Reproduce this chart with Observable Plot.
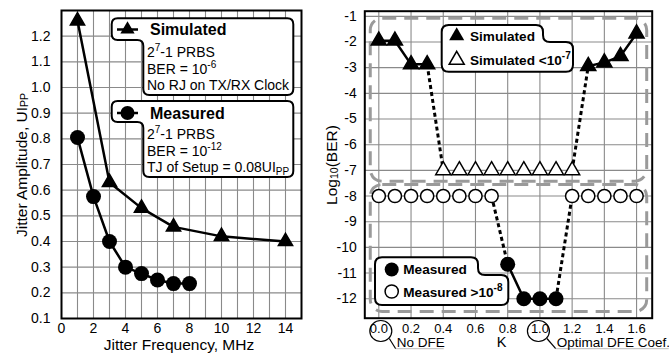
<!DOCTYPE html>
<html><head><meta charset="utf-8">
<script src="https://cdn.jsdelivr.net/npm/d3@7"></script>
<script src="https://cdn.jsdelivr.net/npm/@observablehq/plot@0.6"></script>
<style>
body{margin:0;background:#fff;}
#wrap{position:relative;width:669px;height:353px;overflow:hidden;font-family:"Liberation Sans",Arial,sans-serif;background:#fff;}
#left{position:absolute;left:0;top:0;}
#right{position:absolute;left:316px;top:0;}
svg{overflow:visible;}
</style></head><body><div id="wrap"><div id="left"></div><div id="right"></div></div>
<script>
// ---- Left panel data ----
const freqSim = [1, 3, 5, 7, 10, 14];
const ampSim = [1.26, 0.63, 0.53, 0.457, 0.42, 0.40];
const freqMeas = [1, 2, 3, 4, 5, 6, 7, 8];
const ampMeas = [0.805, 0.575, 0.40, 0.30, 0.275, 0.25, 0.236, 0.236];
const xTicksL = [0, 2, 4, 6, 8, 10, 12, 14];
const yTicksL = [0.1, 0.2, 0.3, 0.4, 0.5, 0.6, 0.7, 0.8, 0.9, 1.0, 1.1, 1.2];
const xGridL = [1,2,3,4,5,6,7,8,9,10,11,12,13,14];

// ---- Right panel data ----
const kSim = [0.0, 0.1, 0.2, 0.3, 1.3, 1.4, 1.5, 1.6];
const berSim = [-1.95, -1.95, -2.87, -2.87, -2.94, -2.8, -2.55, -1.67];
const kSimLow = [0.4, 0.5, 0.6, 0.7, 0.8, 0.9, 1.0, 1.1, 1.2];
const berSimLow = [-7, -7, -7, -7, -7, -7, -7, -7, -7];
const kMeas = [0.8, 0.9, 1.0, 1.1];
const berMeas = [-10.66, -12, -12, -12];
const kMeasHigh = [0.0, 0.1, 0.2, 0.3, 0.4, 0.5, 0.6, 0.7, 1.2, 1.3, 1.4, 1.5, 1.6];
const berMeasHigh = [-8, -8, -8, -8, -8, -8, -8, -8, -8, -8, -8, -8, -8];
const xTicksR = [0.0, 0.2, 0.4, 0.6, 0.8, 1.0, 1.2, 1.4, 1.6];
const yTicksR = [-1, -2, -3, -4, -5, -6, -7, -8, -9, -10, -11, -12];
// dashed region boxes (data units)
const boxK1 = [-0.05, -0.05];
const boxK2 = [1.666, 1.666];
const boxB1 = [-7.44, -12.52];
const boxB2 = [-1.09, -7.57];

const FONT = "Liberation Sans, Arial, sans-serif";
const GRID = "#8a8a8a";

// ---------- LEFT ----------
const simL = freqSim.map((f, i) => ({f, a: ampSim[i]}));
const measL = freqMeas.map((f, i) => ({f, a: ampMeas[i]}));
const left = Plot.plot({
  width: 316, height: 353,
  marginLeft: 61, marginRight: 15, marginTop: 10, marginBottom: 35,
  style: {fontFamily: FONT, fontSize: "14px", color: "#000", background: "transparent", overflow: "visible"},
  x: {domain: [0, 15], ticks: xTicksL, tickSize: 0, tickPadding: 5, label: null, tickFormat: d => String(d)},
  y: {domain: [0.1, 1.3], ticks: yTicksL, tickSize: 0, tickPadding: 11, label: null, tickFormat: d3.format(".1f")},
  marks: [
    Plot.ruleX(xGridL, {stroke: GRID, strokeWidth: 1.1}),
    Plot.ruleY(yTicksL.slice(1), {stroke: GRID, strokeWidth: 1.1}),
    Plot.frame({stroke: "#000", strokeWidth: 2}),
    Plot.line(simL, {x: "f", y: "a", stroke: "#000", strokeWidth: 2.5}),
    Plot.dot(simL, {x: "f", y: "a", symbol: "triangle", r: 5.3, fill: "#000", stroke: "#000"}),
    Plot.line(measL, {x: "f", y: "a", stroke: "#000", strokeWidth: 2.5}),
    Plot.dot(measL, {x: "f", y: "a", r: 7.5, fill: "#000"})
  ]
});
document.getElementById("left").appendChild(left);

// ---------- RIGHT ----------
const simR = kSim.map((k, i) => ({k, b: berSim[i], g: k < 1 ? "a" : "b"}));
const simLowR = kSimLow.map((k, i) => ({k, b: berSimLow[i]}));
const measR = kMeas.map((k, i) => ({k, b: berMeas[i]}));
const measHighR = kMeasHigh.map((k, i) => ({k, b: berMeasHigh[i]}));
const boxes = boxK1.map((k, i) => ({x1: k, x2: boxK2[i], y1: boxB1[i], y2: boxB2[i]}));
const dotted = [
  {x1: kSim[3], y1: berSim[3], x2: kSimLow[0], y2: berSimLow[0]},
  {x1: kSimLow[8], y1: berSimLow[8], x2: kSim[4], y2: berSim[4]},
  {x1: kMeasHigh[7], y1: berMeasHigh[7], x2: kMeas[0], y2: berMeas[0]},
  {x1: kMeas[3], y1: berMeas[3], x2: kMeasHigh[8], y2: berMeasHigh[8]}
];
const right = Plot.plot({
  width: 353, height: 353,
  marginLeft: 48.3, marginRight: 17.3, marginTop: 10.7, marginBottom: 35.3,
  style: {fontFamily: FONT, fontSize: "14px", color: "#000", background: "transparent", overflow: "visible"},
  x: {domain: [-0.087, 1.697], ticks: xTicksR, tickSize: 0, tickPadding: 6, label: null, tickFormat: d3.format(".1f")},
  y: {domain: [-12.76, -0.8], ticks: yTicksR, tickSize: 0, tickPadding: 8, label: null, tickFormat: d => String(d)},
  marks: [
    Plot.ruleX(xTicksR, {stroke: GRID, strokeWidth: 1.1}),
    Plot.ruleY(yTicksR, {stroke: GRID, strokeWidth: 1.1}),
    Plot.rect(boxes, {x1: "x1", x2: "x2", y1: "y1", y2: "y2", fill: "none", stroke: "#9a9a9a", strokeWidth: 3, strokeDasharray: "14,8", rx: 12}),
    Plot.frame({stroke: "#000", strokeWidth: 2}),
    Plot.link(dotted, {x1: "x1", y1: "y1", x2: "x2", y2: "y2", stroke: "#000", strokeWidth: 3, strokeDasharray: "4,3"}),
    Plot.line(simR, {x: "k", y: "b", z: "g", stroke: "#000", strokeWidth: 2.5}),
    Plot.line(measR, {x: "k", y: "b", stroke: "#000", strokeWidth: 2.5}),
    Plot.dot(simR, {x: "k", y: "b", symbol: "triangle", r: 5.6, fill: "#000", stroke: "#000"}),
    Plot.dot(simLowR, {x: "k", y: "b", symbol: "triangle", r: 5.6, fill: "#fff", stroke: "#000", strokeWidth: 1.5}),
    Plot.dot(measHighR, {x: "k", y: "b", r: 6.6, fill: "#fff", stroke: "#000", strokeWidth: 1.5}),
    Plot.dot(measR, {x: "k", y: "b", r: 7.5, fill: "#000"})
  ]
});
document.getElementById("right").appendChild(right);
// slightly smaller tick labels on the K axis
d3.select(right).selectAll('[aria-label="x-axis tick label"]').attr("font-size", "13px");

// ---------- decorations ----------
function rich(g, x, y, parts, attrs) {
  const t = g.append("text").attr("x", x).attr("y", y).attr("font-family", FONT).attr("text-anchor", "start");
  for (const k in attrs) t.attr(k, attrs[k]);
  let shift = 0;
  for (const [s, type] of parts) {
    const sp = t.append("tspan").text(s);
    let target = type === "sup" ? -6 : type === "sub" ? 3 : 0;
    if (target !== shift) { sp.attr("dy", target - shift); shift = target; }
    if (type === "sup" || type === "sub") sp.attr("font-size", "10px");
  }
  return t;
}
function tabLeftPath(xa, xb, xr, y0, yh, y1, r) {
  return `M${xa+r},${y0} H${xr-r} Q${xr},${y0} ${xr},${y0+r} V${y1-r} Q${xr},${y1} ${xr-r},${y1} H${xb+r} Q${xb},${y1} ${xb},${y1-r} V${yh+r} Q${xb},${yh} ${xb-r},${yh} H${xa+r} Q${xa},${yh} ${xa},${yh-r} V${y0+r} Q${xa},${y0} ${xa+r},${y0} Z`;
}
function tabRightPath(xl, xt, xr, y0, ym, y1, r) {
  return `M${xl+r},${y0} H${xt-r} Q${xt},${y0} ${xt},${y0+r} V${ym-r} Q${xt},${ym} ${xt+r},${ym} H${xr-r} Q${xr},${ym} ${xr},${ym+r} V${y1-r} Q${xr},${y1} ${xr-r},${y1} H${xl+r} Q${xl},${y1} ${xl},${y1-r} V${y0+r} Q${xl},${y0} ${xl+r},${y0} Z`;
}
const tri = r => d3.symbol(d3.symbolTriangle, r * r * Math.PI)();

// Left decorations
const L = d3.select(left);
L.append("text").attr("transform", "translate(21,165) rotate(-90)")
  .attr("text-anchor", "middle").attr("dominant-baseline", "central")
  .attr("font-family", FONT).attr("font-size", "15.5px")
  .call(t => { t.append("tspan").text("Jitter Amplitude, UI"); t.append("tspan").attr("font-size", "10.5px").attr("dy", 3).text("PP"); });
L.append("text").attr("x", 179).attr("y", 350).attr("text-anchor", "middle")
  .attr("font-family", FONT).attr("font-size", "15.5px").text("Jitter Frequency, MHz");

const lg = L.append("g");
lg.append("path").attr("d", tabLeftPath(111.7, 143.3, 293.3, 18.3, 40, 95, 6)).attr("fill", "#fff").attr("stroke", "#000").attr("stroke-width", 2);
lg.append("path").attr("d", tabLeftPath(111.7, 143.3, 293.3, 101, 122, 177, 6)).attr("fill", "#fff").attr("stroke", "#000").attr("stroke-width", 2);
lg.append("line").attr("x1", 117).attr("x2", 138).attr("y1", 29.5).attr("y2", 29.5).attr("stroke", "#000").attr("stroke-width", 2.5);
lg.append("path").attr("d", tri(5.3)).attr("transform", "translate(127.5,29.5)").attr("fill", "#000");
lg.append("line").attr("x1", 117).attr("x2", 138).attr("y1", 113).attr("y2", 113).attr("stroke", "#000").attr("stroke-width", 2.5);
lg.append("circle").attr("cx", 127.5).attr("cy", 113).attr("r", 7).attr("fill", "#000");
const boldL = {"font-size": "16px", "font-weight": "bold"};
const normL = {"font-size": "14px"};
rich(lg, 150, 35, [["Simulated", "n"]], boldL);
rich(lg, 147, 56.5, [["2", "n"], ["7", "sup"], ["-1 PRBS", "n"]], normL);
rich(lg, 147, 73.5, [["BER = 10", "n"], ["-6", "sup"]], normL);
rich(lg, 147, 90, [["No RJ on TX/RX Clock", "n"]], normL);
rich(lg, 150, 118.5, [["Measured", "n"]], boldL);
rich(lg, 147, 138.5, [["2", "n"], ["7", "sup"], ["-1 PRBS", "n"]], normL);
rich(lg, 147, 155.5, [["BER = 10", "n"], ["-12", "sup"]], normL);
rich(lg, 147, 171.5, [["TJ of Setup = 0.08UI", "n"], ["PP", "sub"]], normL);

// Right decorations (page coords translated)
const R = d3.select(right);
const rg = R.append("g").attr("transform", "translate(-316,0)");
rg.append("text").attr("transform", "translate(331,165) rotate(-90)")
  .attr("text-anchor", "middle").attr("dominant-baseline", "central")
  .attr("font-family", FONT).attr("font-size", "15.5px")
  .call(t => { t.append("tspan").text("Log"); t.append("tspan").attr("font-size", "10.5px").attr("dy", 3).text("10"); t.append("tspan").attr("dy", -3).text("(BER)"); });

rg.append("path").attr("d", tabRightPath(441.7, 543, 573, 25, 42, 71.7, 7)).attr("fill", "#fff").attr("stroke", "#000").attr("stroke-width", 2);
rg.append("path").attr("d", tri(5.6)).attr("transform", "translate(456.7,36)").attr("fill", "#000");
rg.append("path").attr("d", tri(5.6)).attr("transform", "translate(456.7,60)").attr("fill", "#fff").attr("stroke", "#000").attr("stroke-width", 1.5);
const boldR = {"font-size": "13.6px", "font-weight": "bold"};
rich(rg, 470, 40.5, [["Simulated", "n"]], boldR);
rich(rg, 470, 64.5, [["Simulated <10", "n"], ["-7", "sup"]], boldR);

rg.append("path").attr("d", tabRightPath(375, 478, 508.3, 257.3, 275, 305, 7)).attr("fill", "#fff").attr("stroke", "#000").attr("stroke-width", 2);
rg.append("circle").attr("cx", 391.7).attr("cy", 269.5).attr("r", 7).attr("fill", "#000");
rg.append("circle").attr("cx", 391.7).attr("cy", 291.5).attr("r", 6.6).attr("fill", "#fff").attr("stroke", "#000").attr("stroke-width", 1.5);
rich(rg, 403.3, 274, [["Measured", "n"]], boldR);
rich(rg, 403.3, 296.5, [["Measured >10", "n"], ["-8", "sup"]], boldR);

// circled tick annotations using the plot's x scale
const xs = right.scale("x");
const cx0 = xs.apply(0) + 316 + 2.5, cx1 = xs.apply(1) + 316 - 1;
for (const [cx, label, tx] of [[cx0, "No DFE", 396.7], [cx1, "Optimal DFE Coef.", 556.7]]) {
  rg.append("ellipse").attr("cx", cx).attr("cy", 331).attr("rx", 11).attr("ry", 10.5).attr("fill", "none").attr("stroke", "#000").attr("stroke-width", 1.2);
  rg.append("line").attr("x1", cx + 8.5).attr("y1", 338.5).attr("x2", tx - 1).attr("y2", 348.7).attr("stroke", "#000").attr("stroke-width", 1.2);
  rg.append("line").attr("x1", tx - 1).attr("y1", 348.7).attr("x2", tx + (label.length > 8 ? 112 : 47)).attr("y2", 348.7).attr("stroke", "#bbb").attr("stroke-width", 1);
  rg.append("text").attr("x", tx).attr("y", 347).attr("text-anchor", "start").attr("font-family", FONT).attr("font-size", "13.5px").text(label);
}
rg.append("text").attr("x", 501.7).attr("y", 347).attr("text-anchor", "middle").attr("font-family", FONT).attr("font-size", "14.5px").text("K");
</script></body></html>
